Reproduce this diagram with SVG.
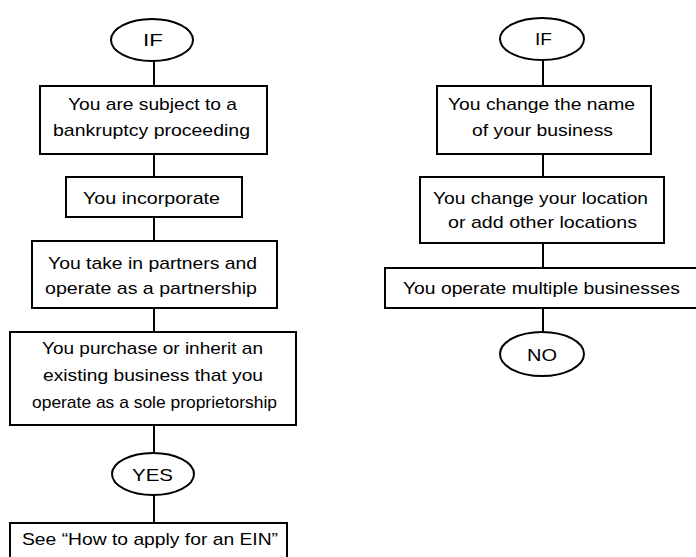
<svg xmlns="http://www.w3.org/2000/svg" width="696" height="557" viewBox="0 0 696 557">
<style>
.bg{fill:#ffffff}
.box{fill:#ffffff;stroke:#000000;stroke-width:2}
.oval{fill:#ffffff;stroke:#000000;stroke-width:2}
.edge{stroke:#000000;stroke-width:2;fill:none}
text{font-family:"Liberation Sans",Arial,sans-serif;font-size:17px;fill:#000000;text-anchor:middle}
</style>
<rect class="bg" x="0" y="0" width="696" height="557"/>
<g id="connectors">
<line class="edge" x1="154" y1="61" x2="154" y2="86"/>
<line class="edge" x1="154" y1="154" x2="154" y2="177"/>
<line class="edge" x1="154" y1="217" x2="154" y2="241"/>
<line class="edge" x1="154" y1="308" x2="154" y2="332"/>
<line class="edge" x1="154" y1="425" x2="154" y2="453"/>
<line class="edge" x1="154" y1="495" x2="154" y2="523"/>
<line class="edge" x1="543" y1="60" x2="543" y2="86"/>
<line class="edge" x1="543" y1="154" x2="543" y2="177"/>
<line class="edge" x1="543" y1="243" x2="543" y2="268"/>
<line class="edge" x1="543" y1="308" x2="543" y2="332"/>
</g>
<g id="if-left">
<ellipse class="oval" cx="152" cy="40" rx="41" ry="21"/>
<text x="153" y="46" textLength="20" lengthAdjust="spacingAndGlyphs">IF</text>
</g>
<g id="bankruptcy">
<rect class="box" x="40" y="86" width="227" height="68"/>
<text x="152.5" y="110" textLength="169" lengthAdjust="spacingAndGlyphs">You are subject to a</text>
<text x="151.5" y="136" textLength="197" lengthAdjust="spacingAndGlyphs">bankruptcy proceeding</text>
</g>
<g id="incorporate">
<rect class="box" x="66" y="177" width="176" height="40"/>
<text x="151.5" y="204" textLength="137" lengthAdjust="spacingAndGlyphs">You incorporate</text>
</g>
<g id="partners">
<rect class="box" x="32" y="241" width="245" height="67"/>
<text x="152.5" y="269" textLength="209" lengthAdjust="spacingAndGlyphs">You take in partners and</text>
<text x="151" y="294" textLength="212" lengthAdjust="spacingAndGlyphs">operate as a partnership</text>
</g>
<g id="purchase">
<rect class="box" x="10" y="332" width="286" height="93"/>
<text x="152.5" y="354" textLength="221" lengthAdjust="spacingAndGlyphs">You purchase or inherit an</text>
<text x="153" y="381" textLength="220" lengthAdjust="spacingAndGlyphs">existing business that you</text>
<text x="154.5" y="408" textLength="245" lengthAdjust="spacingAndGlyphs">operate as a sole proprietorship</text>
</g>
<g id="yes">
<ellipse class="oval" cx="153" cy="474" rx="41" ry="21"/>
<text x="152.5" y="481" textLength="41" lengthAdjust="spacingAndGlyphs">YES</text>
</g>
<g id="see-ein">
<rect class="box" x="10" y="523" width="277" height="44"/>
<text x="150" y="545" textLength="256" lengthAdjust="spacingAndGlyphs">See “How to apply for an EIN”</text>
</g>
<g id="if-right">
<ellipse class="oval" cx="542" cy="39" rx="42" ry="21"/>
<text x="543.5" y="45" textLength="17" lengthAdjust="spacingAndGlyphs">IF</text>
</g>
<g id="change-name">
<rect class="box" x="437" y="86" width="214" height="68"/>
<text x="541.5" y="110" textLength="187" lengthAdjust="spacingAndGlyphs">You change the name</text>
<text x="542.5" y="136" textLength="141" lengthAdjust="spacingAndGlyphs">of your business</text>
</g>
<g id="change-location">
<rect class="box" x="420" y="177" width="244" height="66"/>
<text x="540.5" y="204" textLength="215" lengthAdjust="spacingAndGlyphs">You change your location</text>
<text x="542.5" y="228" textLength="189" lengthAdjust="spacingAndGlyphs">or add other locations</text>
</g>
<g id="multiple">
<rect class="box" x="385" y="268" width="316" height="40"/>
<text x="541.5" y="294" textLength="277" lengthAdjust="spacingAndGlyphs">You operate multiple businesses</text>
</g>
<g id="no">
<ellipse class="oval" cx="542" cy="354" rx="42" ry="22"/>
<text x="542" y="361" textLength="30" lengthAdjust="spacingAndGlyphs">NO</text>
</g>
</svg>
